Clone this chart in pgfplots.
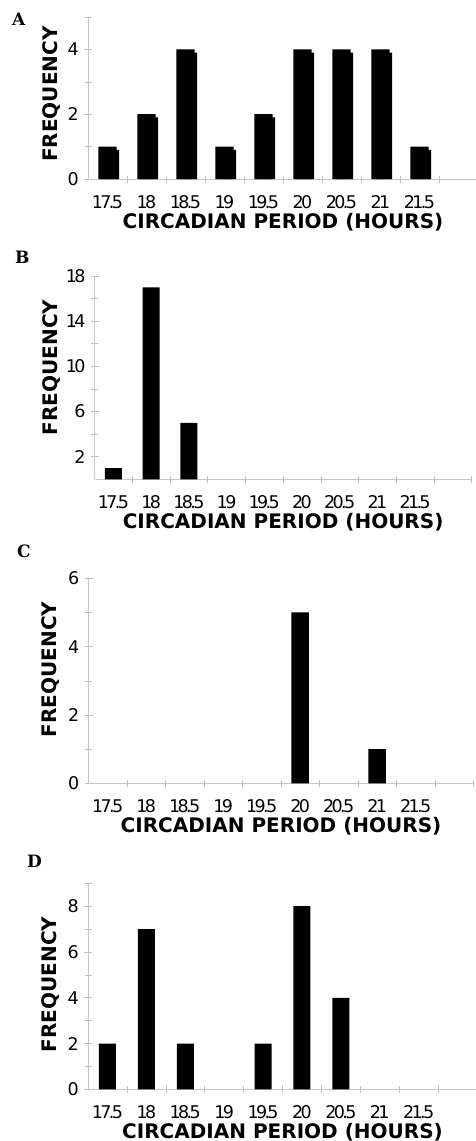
\documentclass[border=0pt]{standalone}
\usepackage{fontspec}
\setmainfont{DejaVu Sans}
\newfontfamily\tickfont[LetterSpace=-15]{DejaVu Sans}
\newfontfamily\letterfont{DejaVu Serif}
\usepackage{pgfplots}
\pgfplotsset{compat=1.18}
\pgfplotsset{
  panel/.style={
    scale only axis,
    anchor=south west,
    axis lines*=left,
    axis line style={draw=black!22, line width=0.8pt},
    xmin=-0.5, xmax=9.5, ymin=0,
    xtick={0,...,8},
    xticklabels={17.5,18,18.5,19,19.5,20,20.5,21,21.5},
    major x tick style={draw=none},
    minor xtick={0.5,1.5,2.5,3.5,4.5,5.5,6.5,7.5,8.5,9.5},
    tick align=center,
    tick style={draw=black!25, line width=0.6pt},
    major tick length=8pt, minor tick length=7pt,
    /pgf/number format/assume math mode=true,
    tick label style={font=\tickfont\fontsize{17.5}{17.5}\selectfont},
    xticklabel style={anchor=base, inner sep=0pt, yshift=-25pt},
    yticklabel style={anchor=east, inner sep=0pt, xshift=-5pt},
    xlabel={CIRCADIAN PERIOD (HOURS)},
    ylabel={FREQUENCY},
    label style={font=\fontsize{20}{20}\selectfont\bfseries},
    xlabel style={at={(axis description cs:0.5,0)}, anchor=base, yshift=-49pt},
    clip=false,
  },
  bars/.style={ybar, fill=black, draw=none, bar width=#1},
}
\begin{document}
\begin{tikzpicture}
\useasboundingbox (0,0) rectangle (475pt,-1141pt);

% Panel A
\begin{axis}[panel, at={(88pt,-179pt)}, width=390pt, height=162pt,
  ymax=5, ytick={0,2,4}, minor ytick={1,3,5},
  ylabel style={at={(axis description cs:0,0.525)}, anchor=center, yshift=36pt}]
\addplot[bars=18.4pt, bar shift=2.3pt] coordinates {(0,0.9)(1,1.9)(2,3.9)(3,0.9)(4,1.9)(5,3.9)(6,3.9)(7,3.9)(8,0.9)};
\addplot[bars=18.4pt, bar shift=0pt] coordinates {(0,1)(1,2)(2,4)(3,1)(4,2)(5,4)(6,4)(7,4)(8,1)};
\end{axis}

% Panel B
\begin{axis}[panel, at={(94.6pt,-479.3pt)}, width=377pt, height=203.3pt,
  ymax=18, ytick={2,6,10,14,18}, minor ytick={4,8,12,16},
  ylabel style={at={(axis description cs:0,0.55)}, anchor=center, yshift=42.6pt}]
\addplot[bars=17pt] coordinates {(0,1)(1,17)(2,5)};
\end{axis}

% Panel C
\begin{axis}[panel, at={(88.5pt,-783.3pt)}, width=385pt, height=205pt,
  ymax=6, ytick={0,2,4,6}, minor ytick={1,3,5},
  ylabel style={at={(axis description cs:0,0.555)}, anchor=center, yshift=37.5pt}]
\addplot[bars=17.5pt] coordinates {(5,5)(7,1)};
\end{axis}

% Panel D
\begin{axis}[panel, at={(88pt,-1089.3pt)}, width=389pt, height=206pt,
  ymax=9, ytick={0,2,4,6,8}, minor ytick={1,3,5,7,9},
  ylabel style={at={(axis description cs:0,0.509)}, anchor=center, yshift=37pt}]
\addplot[bars=17pt] coordinates {(0,2)(1,7)(2,2)(4,2)(5,8)(6,4)};
\end{axis}

\begin{scope}[every node/.style={anchor=base west, inner sep=0pt, font=\letterfont\bfseries\fontsize{17}{17}\selectfont}]
\node at (12pt,-25pt) {A};
\node at (15pt,-263pt) {B};
\node at (17pt,-557pt) {C};
\node at (27pt,-867pt) {D};
\end{scope}
\end{tikzpicture}
\end{document}
